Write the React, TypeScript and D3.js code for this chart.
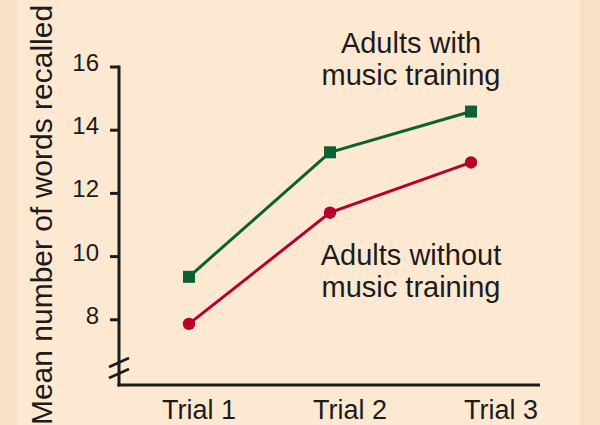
import React from "react";
import * as d3 from "d3";

const trials = ["Trial 1", "Trial 2", "Trial 3"];
const withMusic = [9.36, 13.3, 14.59];
const withoutMusic = [7.87, 11.39, 12.98];
const yTicks = [8, 10, 12, 14, 16];
const yTitle = "Mean number of words recalled";
const labelWith = ["Adults with", "music training"];
const labelWithout = ["Adults without", "music training"];

const W = 600;
const H = 425;
const BG = "#fde8d1";
const STRIP = "#f8e0c8";
const GREEN = "#0a6232";
const RED = "#b8002b";
const INK = "#1c1c1c";
const FONT = "'Liberation Sans', Arial, Helvetica, sans-serif";

export default function App() {
  const axisX = 119;
  const axisBottom = 385;
  const axisRight = 540;

  const x = d3.scalePoint<string>().domain(trials).range([189, 471]);
  const xLabel = d3.scalePoint<string>().domain(trials).range([199, 501]);
  const y = d3.scaleLinear().domain([6, 16]).range([383, 67]);

  const line = d3
    .line<number>()
    .x((_, i) => x(trials[i]) as number)
    .y((d) => y(d));

  return (
    <svg
      width={W}
      height={H}
      style={{ position: "absolute", left: 0, top: 0, display: "block" }}
    >
      <rect x={0} y={0} width={W} height={H} fill={BG} />
      <rect x={0} y={0} width={17} height={H} fill={STRIP} />
      <rect x={580} y={0} width={20} height={H} fill={STRIP} />

      {/* y axis title */}
      <text
        transform={`translate(52, 215) rotate(-90)`}
        textAnchor="middle"
        fontFamily={FONT}
        fontSize={30}
        fill={INK}
      >
        {yTitle}
      </text>

      {/* axes */}
      <g stroke={INK} strokeWidth={3} fill="none">
        <line x1={axisX} y1={y(16) - 1.5} x2={axisX} y2={axisBottom + 1.5} />
        <line x1={axisX - 1.5} y1={axisBottom} x2={axisRight} y2={axisBottom} />
        {yTicks.map((t) => (
          <line key={t} x1={axisX - 9} y1={y(t)} x2={axisX} y2={y(t)} />
        ))}
        {/* axis break */}
        <line x1={109} y1={367} x2={129} y2={358} strokeWidth={2.5} />
        <line x1={109} y1={378} x2={129} y2={369} strokeWidth={2.5} />
      </g>

      {yTicks.map((t) => (
        <text
          key={t}
          x={99}
          y={y(t) + 4}
          textAnchor="end"
          fontFamily={FONT}
          fontSize={24}
          fill={INK}
        >
          {t}
        </text>
      ))}

      {trials.map((t) => (
        <text
          key={t}
          x={xLabel(t)}
          y={419}
          textAnchor="middle"
          fontFamily={FONT}
          fontSize={27}
          fill={INK}
        >
          {t}
        </text>
      ))}

      {/* series */}
      <path d={line(withMusic) || ""} stroke={GREEN} strokeWidth={3} fill="none" />
      <path d={line(withoutMusic) || ""} stroke={RED} strokeWidth={3} fill="none" />
      {withMusic.map((v, i) => (
        <rect
          key={i}
          x={(x(trials[i]) as number) - 6}
          y={y(v) - 6}
          width={12}
          height={12}
          fill={GREEN}
        />
      ))}
      {withoutMusic.map((v, i) => (
        <circle
          key={i}
          cx={x(trials[i]) as number}
          cy={y(v)}
          r={6.2}
          fill={RED}
        />
      ))}

      {/* annotations */}
      {labelWith.map((s, i) => (
        <text
          key={s}
          x={411}
          y={53 + i * 32}
          textAnchor="middle"
          fontFamily={FONT}
          fontSize={29}
          fill={INK}
        >
          {s}
        </text>
      ))}
      {labelWithout.map((s, i) => (
        <text
          key={s}
          x={411}
          y={265 + i * 32}
          textAnchor="middle"
          fontFamily={FONT}
          fontSize={29}
          fill={INK}
        >
          {s}
        </text>
      ))}
    </svg>
  );
}
